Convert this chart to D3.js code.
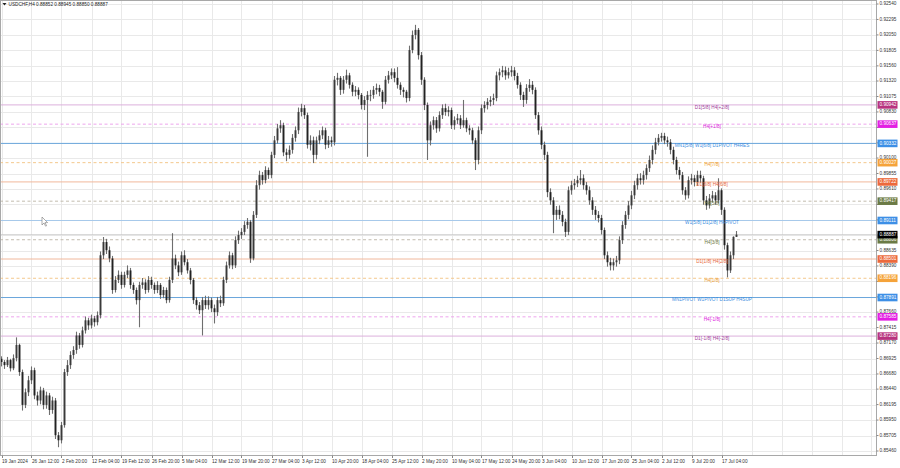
<!DOCTYPE html>
<html><head><meta charset="utf-8">
<script src="https://cdn.jsdelivr.net/npm/d3@7"></script>
<style>
body{margin:0;background:#fff;overflow:hidden}
svg{display:block;font-family:"Liberation Sans",Arial,sans-serif}
</style>
</head><body>
<svg id="c" width="900" height="468"></svg>
<script>
// ---------------- DATA ----------------
const symbolTitle = "USDCHF,H4";
const headerOHLC = ["0.88852", "0.88945", "0.88850", "0.88887"];
const firstOpen = 0.8692;
const closes = [
0.8687,0.8682,0.8690,0.8677,0.8693,0.8714,0.8671,0.8619,0.8639,0.8658,
0.8674,0.8634,0.8626,0.8642,0.8619,0.8634,0.8611,0.8626,0.8571,0.8563,
0.8587,0.8671,0.8682,0.8698,0.8706,0.8729,0.8714,0.8737,0.8753,0.8745,
0.8756,0.8750,0.8761,0.8856,0.8877,0.8864,0.8851,0.8801,0.8817,0.8825,
0.8809,0.8825,0.8832,0.8809,0.8801,0.8785,0.8809,0.8813,0.8801,0.8817,
0.8809,0.8801,0.8809,0.8793,0.8801,0.8785,0.8817,0.8851,0.8840,0.8829,
0.8856,0.8845,0.8832,0.8817,0.8785,0.8777,0.8769,0.8785,0.8777,0.8785,
0.8772,0.8766,0.8785,0.8780,0.8817,0.8840,0.8856,0.8840,0.8880,0.8888,
0.8893,0.8904,0.8909,0.8851,0.8920,0.8967,0.8983,0.8975,0.8991,0.8983,
0.9015,0.9038,0.9057,0.9062,0.9019,0.9015,0.9023,0.9042,0.9054,0.9083,
0.9089,0.9078,0.9031,0.9038,0.9015,0.9038,0.9046,0.9054,0.9031,0.9038,
0.9035,0.9134,0.9137,0.9118,0.9134,0.9141,0.9126,0.9115,0.9118,0.9110,
0.9094,0.9102,0.9110,0.9110,0.9118,0.9121,0.9115,0.9099,0.9134,0.9141,
0.9146,0.9137,0.9126,0.9118,0.9115,0.9105,0.9181,0.9205,0.9213,0.9173,
0.9134,0.9094,0.9038,0.9062,0.9070,0.9057,0.9078,0.9089,0.9083,0.9086,
0.9062,0.9070,0.9073,0.9062,0.9070,0.9057,0.9054,0.9038,0.9007,0.9054,
0.9089,0.9094,0.9099,0.9102,0.9105,0.9141,0.9146,0.9149,0.9141,0.9146,
0.9149,0.9140,0.9126,0.9110,0.9102,0.9121,0.9126,0.9118,0.9078,0.9054,
0.9031,0.9015,0.8956,0.8943,0.8920,0.8928,0.8920,0.8909,0.8893,0.8959,
0.8967,0.8970,0.8975,0.8978,0.8967,0.8959,0.8943,0.8928,0.8920,0.8915,
0.8896,0.8856,0.8845,0.8840,0.8845,0.8848,0.8880,0.8904,0.8920,0.8935,
0.8951,0.8967,0.8978,0.8975,0.8983,0.8994,0.9007,0.9023,0.9035,0.9042,
0.9045,0.9038,0.9035,0.9023,0.9007,0.8991,0.8983,0.8959,0.8951,0.8975,
0.8978,0.8972,0.8983,0.8978,0.8943,0.8935,0.8946,0.8951,0.8943,0.8959,
0.8928,0.8872,0.8832,0.8856,0.88852,0.88887];
const highs = [
0.8696,0.8690,0.8695,0.8692,0.8699,0.8726,0.8716,0.8675,0.8645,0.8665,
0.8680,0.8678,0.8640,0.8648,0.8646,0.8640,0.8638,0.8632,0.8630,0.8576,
0.8592,0.8676,0.8690,0.8704,0.8712,0.8735,0.8733,0.8743,0.8759,0.8757,
0.8762,0.8760,0.8767,0.8862,0.8885,0.8882,0.8870,0.8855,0.8823,0.8832,
0.8830,0.8830,0.8840,0.8836,0.8813,0.8805,0.8814,0.8820,0.8818,0.8823,
0.8822,0.8813,0.8815,0.8812,0.8806,0.8805,0.8822,0.8891,0.8857,0.8846,
0.8862,0.8864,0.8850,0.8836,0.8820,0.8790,0.8782,0.8790,0.8792,0.8791,
0.8789,0.8778,0.8790,0.8792,0.8822,0.8846,0.8862,0.8860,0.8886,0.8895,
0.8899,0.8910,0.8915,0.8912,0.8926,0.8975,0.8990,0.8988,0.8997,0.8995,
0.9020,0.9045,0.9064,0.9070,0.9066,0.9025,0.9030,0.9048,0.9060,0.9090,
0.9096,0.9094,0.9082,0.9046,0.9044,0.9044,0.9054,0.9060,0.9058,0.9045,
0.9044,0.9140,0.9145,0.9140,0.9140,0.9150,0.9145,0.9130,0.9124,0.9122,
0.9113,0.9108,0.9116,0.9118,0.9124,0.9128,0.9126,0.9118,0.9140,0.9148,
0.9152,0.9152,0.9154,0.9130,0.9122,0.9118,0.9188,0.9212,0.9221,0.9216,
0.9178,0.9138,0.9098,0.9068,0.9076,0.9075,0.9084,0.9095,0.9096,0.9092,
0.9090,0.9076,0.9080,0.9078,0.9102,0.9074,0.9062,0.9058,0.9042,0.9060,
0.9095,0.9100,0.9105,0.9108,0.9112,0.9147,0.9152,0.9156,0.9155,0.9153,
0.9156,0.9154,0.9145,0.9130,0.9115,0.9127,0.9135,0.9132,0.9122,0.9083,
0.9060,0.9036,0.9020,0.8962,0.8948,0.8934,0.8935,0.8926,0.8914,0.8965,
0.8974,0.8977,0.8982,0.8991,0.8984,0.8972,0.8965,0.8948,0.8934,0.8926,
0.8920,0.8900,0.8862,0.8852,0.8851,0.8855,0.8886,0.8910,0.8926,0.8942,
0.8958,0.8974,0.8985,0.8986,0.8990,0.9000,0.9014,0.9030,0.9042,0.9048,
0.9050,0.9050,0.9044,0.9040,0.9028,0.9012,0.8996,0.8988,0.8964,0.8981,
0.8985,0.8983,0.8990,0.8990,0.8982,0.8950,0.8953,0.8958,0.8956,0.8978,
0.8962,0.8932,0.8876,0.8862,0.8886,0.88945];
const lows = [
0.8680,0.8676,0.8679,0.8672,0.8674,0.8688,0.8665,0.8610,0.8614,0.8633,
0.8652,0.8628,0.8618,0.8620,0.8612,0.8613,0.8603,0.8605,0.8565,0.8552,
0.8558,0.8583,0.8665,0.8676,0.8692,0.8700,0.8708,0.8710,0.8732,0.8738,
0.8740,0.8743,0.8745,0.8756,0.8850,0.8858,0.8845,0.8795,0.8797,0.8812,
0.8803,0.8805,0.8820,0.8803,0.8795,0.8778,0.8742,0.8803,0.8795,0.8797,
0.8803,0.8795,0.8796,0.8787,0.8788,0.8780,0.8781,0.8812,0.8834,0.8823,
0.8825,0.8840,0.8827,0.8810,0.8779,0.8770,0.8763,0.8729,0.8771,0.8770,
0.8766,0.8748,0.8760,0.8774,0.8776,0.8812,0.8835,0.8834,0.8836,0.8874,
0.8882,0.8888,0.8898,0.8844,0.8848,0.8915,0.8960,0.8968,0.8970,0.8977,
0.8978,0.9010,0.9033,0.9050,0.9013,0.9005,0.9009,0.9017,0.9036,0.9048,
0.9076,0.9072,0.9025,0.9022,0.9002,0.9008,0.9032,0.9040,0.9024,0.9026,
0.9028,0.9030,0.9125,0.9110,0.9112,0.9128,0.9120,0.9108,0.9108,0.9103,
0.9087,0.9086,0.9012,0.9100,0.9104,0.9111,0.9108,0.9088,0.9095,0.9128,
0.9135,0.9130,0.9120,0.9110,0.9106,0.9098,0.9100,0.9176,0.9198,0.9166,
0.9126,0.9086,0.9007,0.9030,0.9055,0.9050,0.9052,0.9072,0.9077,0.9076,
0.9056,0.9055,0.9064,0.9056,0.9058,0.9051,0.9047,0.9032,0.8991,0.9000,
0.9048,0.9082,0.9087,0.9092,0.9094,0.9100,0.9133,0.9138,0.9134,0.9136,
0.9139,0.9133,0.9120,0.9102,0.9091,0.9096,0.9115,0.9111,0.9072,0.9047,
0.9024,0.9007,0.8948,0.8936,0.8891,0.8912,0.8913,0.8902,0.8885,0.8888,
0.8952,0.8960,0.8964,0.8968,0.8960,0.8952,0.8936,0.8920,0.8912,0.8908,
0.8889,0.8850,0.8838,0.8832,0.8832,0.8838,0.8842,0.8874,0.8898,0.8913,
0.8929,0.8945,0.8960,0.8968,0.8968,0.8976,0.8988,0.9000,0.9016,0.9030,
0.9036,0.9032,0.9028,0.9016,0.9000,0.8984,0.8976,0.8952,0.8944,0.8946,
0.8968,0.8965,0.8966,0.8971,0.8936,0.8928,0.8930,0.8940,0.8936,0.8938,
0.8920,0.8865,0.8821,0.8828,0.8850,0.88850];

const timeLabels = ["19 Jan 2024","26 Jan 12:00","2 Feb 20:00","12 Feb 04:00","19 Feb 12:00",
"26 Feb 20:00","5 Mar 04:00","12 Mar 12:00","19 Mar 20:00","27 Mar 04:00","3 Apr 12:00",
"10 Apr 20:00","18 Apr 04:00","25 Apr 12:00","2 May 20:00","10 May 04:00","17 May 12:00",
"24 May 20:00","3 Jun 04:00","10 Jun 12:00","17 Jun 20:00","25 Jun 04:00","2 Jul 12:00",
"9 Jul 20:00","17 Jul 04:00"];
const barsPerLabel = 10;
const gridColumns = 30;

const priceTicks = [0.92540,0.92295,0.92050,0.91805,0.91560,0.91320,0.91075,0.90830,0.90585,
0.90340,0.90100,0.89855,0.89610,0.89365,0.89120,0.88880,0.88635,0.88390,0.88145,0.87900,
0.87660,0.87415,0.87170,0.86925,0.86680,0.86440,0.86195,0.85950,0.85705,0.85460];

const levelPrices = [0.90942,0.90637,0.90332,0.90027,0.89722,0.89417,0.89111,0.88806,0.88501,0.88196,0.87891,0.87585,0.87280];
const levelNames = ["D1[5/8] H4[+2/8]","H4[+1/8]","MN1[5/8] W1[6/8] D1PIVOT H4RES","H4[7/8]",
"D1[3/8] H4[6/8]","H4[5/8]","W1[5/8] D1[2/8] H4PIVOT","H4[3/8]","D1[1/8] H4[2/8]","H4[1/8]",
"MN1PIVOT W1PIVOT D1SUP H4SUP","H4[-1/8]","D1[-1/8] H4[-2/8]"];
const levelKinds = ["d1ext","h4ext","major","h4outer","d1inner","h4inner","minor","h4inner","d1inner","h4outer","major","h4ext","d1ext"];
const currentPrice = 0.88887;

// ---------------- STYLES ----------------
const kindStyle = {
  d1ext:   {line:"#dcb0dc", dash:null,   text:"#a0409a", box:"#b8337f"},
  h4ext:   {line:"#eda5ed", dash:"3,2.5", text:"#dd22dd", box:"#e31ee3"},
  major:   {line:"#6aa6dc", dash:null,   text:"#3d8ee0", box:"#3d8fe6"},
  minor:   {line:"#a6c9ea", dash:null,   text:"#3d8ee0", box:"#3d8fe6"},
  h4outer: {line:"#f4c88c", dash:"3,2.5", text:"#eea032", box:"#f5a33a"},
  d1inner: {line:"#f1b89c", dash:null,   text:"#e6683c", box:"#ec693c"},
  h4inner: {line:"#c2bcae", dash:"3,2.5", text:"#6e7a44", box:"#6b7a45"}
};
const FS = 4.7;
const plotR = 876.5, plotB = 455.5;

// ---------------- DRAW ----------------
const svg = d3.select("#c");
const N = closes.length;
const x = d3.scaleLinear().domain([0, N - 1]).range([1.5, 1.5 + 3 * (N - 1)]);
const y = d3.scaleLinear().domain([0.85460, 0.92540]).range([451, 4]);

// grid
const grid = svg.append("g").attr("shape-rendering","crispEdges");
grid.selectAll("line.h").data(priceTicks).join("line")
  .attr("x1",0).attr("x2",plotR).attr("y1",d=>Math.round(y(d))+0.5).attr("y2",d=>Math.round(y(d))+0.5)
  .attr("stroke","#e9e9e9").attr("stroke-width",1);
grid.selectAll("line.v").data(d3.range(gridColumns)).join("line")
  .attr("x1",d=>Math.round(x(d*barsPerLabel))+0.5).attr("x2",d=>Math.round(x(d*barsPerLabel))+0.5)
  .attr("y1",0).attr("y2",plotB).attr("stroke","#e9e9e9").attr("stroke-width",1);

// level lines
const lv = levelPrices.map((p,i)=>({p, name:levelNames[i], st:kindStyle[levelKinds[i]]}));
svg.append("g").selectAll("line").data(lv).join("line")
  .attr("x1",0).attr("x2",plotR).attr("y1",d=>y(d.p)).attr("y2",d=>y(d.p))
  .attr("stroke",d=>d.st.line).attr("stroke-width",1)
  .attr("stroke-dasharray",d=>d.st.dash);
// current price line
svg.append("line").attr("x1",0).attr("x2",plotR).attr("y1",y(currentPrice)).attr("y2",y(currentPrice))
  .attr("stroke","#c8c8c8").attr("stroke-width",0.8);

// candles
const bars = d3.range(N).map(i=>({i, o: i===0?firstOpen:closes[i-1], c:closes[i], h:highs[i], l:lows[i]}));
const cg = svg.append("g");
cg.selectAll("line").data(bars).join("line")
  .attr("x1",d=>x(d.i)).attr("x2",d=>x(d.i)).attr("y1",d=>y(d.h)).attr("y2",d=>y(d.l))
  .attr("stroke","#6e6e6e").attr("stroke-width",1.1);
cg.selectAll("rect").data(bars).join("rect")
  .attr("x",d=>x(d.i)-0.95).attr("width",1.9)
  .attr("y",d=>y(Math.max(d.o,d.c)))
  .attr("height",d=>Math.max(0.8, Math.abs(y(d.o)-y(d.c))))
  .attr("fill",d=>d.c>=d.o?"#3a3a3a":"#222");

// level texts
const labelX = 712;
svg.append("g").selectAll("text").data(lv).join("text")
  .attr("x",labelX).attr("y",d=>y(d.p)+2.6).attr("text-anchor","middle")
  .attr("dominant-baseline","middle").attr("font-size",FS).attr("fill",d=>d.st.text)
  .text(d=>d.name);

// frame
svg.append("rect").attr("x",0.5).attr("y",0.5).attr("width",plotR-0.5).attr("height",plotB-0.5)
  .attr("fill","none").attr("stroke","#a8a8a8").attr("stroke-width",1).attr("shape-rendering","crispEdges");

// price axis labels
const boxYs = lv.map(d=>y(d.p)).concat([y(currentPrice)]);
const ax = svg.append("g");
ax.selectAll("line").data(priceTicks).join("line")
  .attr("x1",plotR).attr("x2",plotR+2).attr("y1",d=>y(d)).attr("y2",d=>y(d)).attr("stroke","#888");
ax.selectAll("text").data(priceTicks.filter(t=>boxYs.every(b=>Math.abs(b-y(t))>=4))).join("text")
  .attr("x",879.5).attr("y",d=>y(d)).attr("dominant-baseline","middle")
  .attr("font-size",FS).attr("fill","#333").text(d=>d.toFixed(5));

const boxes = lv.map(d=>({p:d.p, col:d.st.box})).concat([{p:currentPrice, col:"#000"}]);
const bg = ax.append("g").selectAll("g").data(boxes).join("g");
bg.append("rect").attr("x",877.5).attr("width",20).attr("y",d=>y(d.p)-3.8).attr("height",7.6).attr("fill",d=>d.col);
bg.append("text").attr("x",879.5).attr("y",d=>y(d.p)).attr("dominant-baseline","middle")
  .attr("font-size",FS).attr("fill","#fff").text(d=>d.p.toFixed(5));

// time axis labels
const tx = svg.append("g");
tx.selectAll("line").data(timeLabels).join("line")
  .attr("x1",(d,k)=>Math.round(x(k*barsPerLabel))+0.5).attr("x2",(d,k)=>Math.round(x(k*barsPerLabel))+0.5)
  .attr("y1",plotB).attr("y2",plotB+2.5).attr("stroke","#888");
tx.selectAll("text").data(timeLabels).join("text")
  .attr("x",(d,k)=>x(k*barsPerLabel)+0.5).attr("y",462).attr("dominant-baseline","middle")
  .attr("font-size",FS).attr("fill","#333").text(d=>d);

// header
svg.append("path").attr("d","M2.5,3 L6.5,3 L4.5,5.6 Z").attr("fill","#222");
svg.append("text").attr("x",8.5).attr("y",4.4).attr("dominant-baseline","middle")
  .attr("font-size",FS).attr("fill","#222")
  .text(symbolTitle + "  " + headerOHLC.join(" "));

// mouse cursor
svg.append("path").attr("d","M42,217 L42,225 L44,223 L45.6,226.2 L46.6,225.7 L45,222.6 L47.6,222.6 Z")
  .attr("fill","#fff").attr("stroke","#777").attr("stroke-width",0.6);
</script>
</body></html>
